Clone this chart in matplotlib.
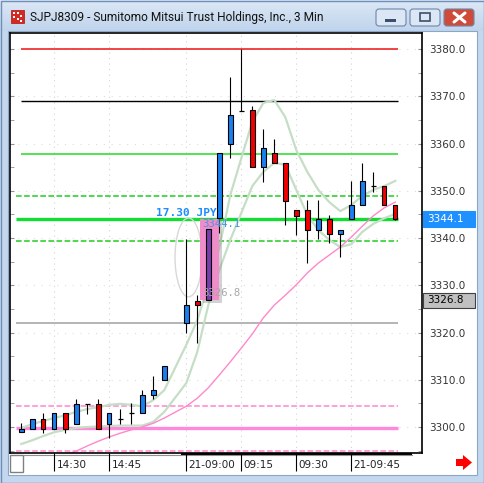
import matplotlib.pyplot as plt
import matplotlib.patches as mpatches
import matplotlib.transforms as mtransforms
from matplotlib.colors import LinearSegmentedColormap
import numpy as np

W, H = 485, 483

# 3-minute bars: previous afternoon session, then the morning of the 21st
times = ['14:21', '14:24', '14:27', '14:30', '14:33', '14:36', '14:39', '14:42',
         '14:45', '14:48', '14:51', '14:54', '14:57', '15:00',
         '09:00', '09:03', '09:06', '09:09', '09:12', '09:15', '09:18', '09:21',
         '09:24', '09:27', '09:30', '09:33', '09:36', '09:39', '09:42', '09:45',
         '09:48', '09:51', '09:54', '09:57']
session = [0] * 14 + [1] * 20

opens = [3298.9, 3299.6, 3301.8, 3299.6, 3302.9, 3300.7, 3304.8, 3304.8, 3300.7, 3301.8,
         3302.9, 3302.9, 3306.7, 3309.9,
         3322.0, 3326.7, 3326.9, 3344.2, 3359.8, 3366.9, 3367.1, 3355.0, 3357.9, 3355.8,
         3345.9, 3345.9, 3341.8, 3344.0, 3340.8, 3344.0, 3346.9, 3351.0, 3351.0, 3346.9]
highs = [3300.8, 3301.8, 3302.9, 3302.9, 3302.9, 3306.0, 3304.8, 3306.0, 3302.9, 3303.8,
         3305.0, 3307.8, 3310.7, 3312.9,
         3339.9, 3327.9, 3341.9, 3357.9, 3374.1, 3380.1, 3368.0, 3363.1, 3361.0, 3355.8,
         3345.9, 3348.0, 3348.0, 3344.9, 3341.8, 3352.1, 3355.9, 3354.0, 3351.0, 3346.9]
lows = [3298.9, 3299.6, 3298.8, 3299.6, 3298.8, 3300.7, 3302.8, 3299.6, 3297.7, 3300.7,
        3300.7, 3302.9, 3305.9, 3309.9,
        3319.9, 3317.8, 3326.9, 3341.1, 3356.9, 3366.9, 3355.0, 3351.9, 3355.8, 3342.8,
        3340.7, 3334.8, 3339.9, 3338.9, 3335.9, 3344.0, 3346.9, 3349.8, 3346.9, 3343.9]
closes = [3299.6, 3301.8, 3299.6, 3302.9, 3299.6, 3304.8, 3304.8, 3299.6, 3302.9, 3301.8,
          3302.9, 3306.7, 3307.8, 3312.9,
          3325.8, 3325.8, 3341.9, 3357.9, 3366.0, 3366.9, 3355.0, 3359.0, 3355.8, 3347.9,
          3344.7, 3341.8, 3344.0, 3340.8, 3341.8, 3346.9, 3352.0, 3351.0, 3346.9, 3344.1]

# indicator lines (pale envelope and pink moving average)
band_upper = [3299.8, 3300.6, 3301.3, 3301.9, 3302.5, 3303.2, 3303.8, 3304.2, 3304.7, 3304.9,
              3304.7, 3304.4, 3305.7, 3307.8,
              3317.4, 3322.6, 3330.1, 3337.9, 3349.1, 3356.9, 3364.6, 3368.6, 3369.2, 3365.6,
              3358.6, 3354.0, 3350.2, 3347.6, 3345.7, 3347.0, 3348.9, 3350.2, 3351.0, 3352.1]
band_lower = [3296.4, 3297.2, 3298.1, 3298.9, 3299.4, 3299.8, 3300.0, 3300.1, 3300.2, 3300.3,
              3300.3, 3300.3, 3301.1, 3303.2,
              3309.3, 3315.9, 3325.8, 3333.2, 3339.6, 3345.3, 3351.0, 3354.0, 3355.9, 3355.5,
              3350.2, 3344.9, 3341.7, 3339.6, 3338.1, 3338.7, 3341.3, 3343.0, 3344.2, 3345.1]
pink_ma = [3290.9, 3291.7, 3292.6, 3293.4, 3294.1, 3294.9, 3296.0, 3297.0, 3297.9, 3298.7,
           3299.4, 3300.0, 3300.8, 3301.9,
           3304.4, 3306.1, 3308.3, 3311.0, 3313.8, 3316.7, 3319.7, 3323.1, 3325.8, 3327.9,
           3330.1, 3332.6, 3334.7, 3336.4, 3338.1, 3340.2, 3342.5, 3344.7, 3346.4, 3347.6]

# horizontal levels
level_prices = [3380.0, 3369.0, 3357.7, 3348.8, 3339.3, 3322.0, 3304.4, 3299.7, 3294.9]
level_colors = ['#ee1111', '#000000', '#22dd22', '#22cc22', '#22cc22', '#a0a0a0',
                '#ff88cc', '#ff88dd', '#ff88cc']
level_styles = ['-', '-', '-', '--', '--', '-', '--', '-', '--']
level_widths = [1.1, 1.0, 1.1, 1.1, 1.1, 1.1, 1.1, 2.4, 1.1]
level_start = [0, 0, 0, -0.5, -0.5, -0.5, -0.5, -0.5, -0.5]
last_price = 3344.1

# measuring tool
measure_hi, measure_lo = 3344.1, 3326.8

yticks = [3300, 3310, 3320, 3330, 3340, 3350, 3360, 3370, 3380]
xtick_labels = {'14:30': '14:30', '14:45': '14:45', '09:00': '21-09:00',
                '09:15': '09:15', '09:30': '09:30', '09:45': '21-09:45'}

fig = plt.figure(figsize=(W / 100, H / 100), dpi=100)
fig.patch.set_facecolor('#c3d7ee')

# window chrome, drawn in pixel coordinates
bg = fig.add_axes([0, 0, 1, 1], zorder=0)
bg.set_xlim(0, W)
bg.set_ylim(H, 0)
bg.axis('off')
frame_cmap = LinearSegmentedColormap.from_list('frame', ['#dce8f6', '#c0d4ec'])
bg.imshow(np.linspace(0, 1, 40)[:, None], extent=(0, W, 31, 0), cmap=frame_cmap,
          aspect='auto', zorder=0)
bg.add_patch(mpatches.Rectangle((0.5, 0.5), W - 1, H - 1, fill=False, ec='#6f8fb8', lw=1))
bg.add_patch(mpatches.Rectangle((8, 31), 469, 444, fc='white', ec='#8aa6c8', lw=0.8))
# icon
bg.add_patch(mpatches.Rectangle((11, 10), 13, 13, fc='#d42a22', ec='#b01010', lw=0.5))
for ix, iy in [(13, 12), (17, 12), (20, 15), (13, 16), (17, 18), (20, 20)]:
    bg.add_patch(mpatches.Rectangle((ix, iy), 2, 2, fc='white', ec='none'))
bg.text(30, 17.5, 'SJPJ8309 - Sumitomo Mitsui Trust Holdings, Inc., 3 Min',
        fontsize=8.6, family='Roboto', color='#111111', va='center', ha='left')
# caption buttons
for bx, fc in [(376, '#dbe7f5'), (410, '#dbe7f5'), (444, '#cf4a38')]:
    bg.add_patch(mpatches.FancyBboxPatch((bx, 9), 30, 17, boxstyle='round,pad=0,rounding_size=3',
                                         fc=fc, ec='#6e86a8', lw=0.8))
bg.add_patch(mpatches.Rectangle((385, 19), 11, 2.5, fc='#3c4f6c', ec='none'))
bg.add_patch(mpatches.Rectangle((420, 13), 10, 8, fill=False, ec='#3c4f6c', lw=1.2))
bg.plot([454, 465], [13, 22], color='white', lw=2.2, solid_capstyle='round')
bg.plot([454, 465], [22, 13], color='white', lw=2.2, solid_capstyle='round')
# bottom area bits
bg.add_patch(mpatches.Rectangle((10, 455), 13, 17, fc='white', ec='#808080', lw=1))
bg.plot([23, 412], [455, 455], color='#909090', lw=0.8)
bg.add_patch(mpatches.Rectangle((181, 452.5), 231, 2.5, fc='black', ec='none'))
bg.add_patch(mpatches.Polygon([(456, 459), (463, 459), (463, 455), (472, 462.5),
                               (463, 470), (463, 466), (456, 466)], fc='#ff0000', ec='none'))

# chart axes
ax = fig.add_axes([10 / W, (H - 453) / H, 412 / W, 420 / H], zorder=1)
ax.set_facecolor('white')
x = np.array([i + s for i, s in enumerate(session)], dtype=float)
o, h, l, c = map(np.array, (opens, highs, lows, closes))

ax.set_xlim((10 - 21.3) / 11, (422 - 21.3) / 11)
ax.set_ylim(3294.5, 3383.4)

# grid
xt = [x[times.index(k)] for k in xtick_labels]
for v in xt:
    ax.axvline(v, color='#d4d4d4', lw=0.8, ls=(0, (1, 4)), zorder=0)
for v in yticks:
    ax.axhline(v, color='#dddddd', lw=0.8, ls=(0, (1, 6)), zorder=0)

# levels
for p, col, st, lw, x0 in zip(level_prices, level_colors, level_styles, level_widths, level_start):
    ax.hlines(p, x0, 34.2, color=col, ls=st, lw=lw, zorder=1)
ax.hlines(last_price, -0.5, 34.2, color='#11dd33', lw=2.4, zorder=1)

# indicators
ax.plot(x, band_upper, color='#c5dec5', lw=1.6, zorder=2)
ax.plot(x, band_lower, color='#c5dec5', lw=1.6, zorder=2)
ax.plot(x, pink_ma, color='#ff88cc', lw=1.0, zorder=2)

# drawing objects: ellipse and measuring box
ax.add_patch(mpatches.Ellipse((15.2, 3335.9), 2.45, 16.7, fill=False, ec='#d8d8d8', lw=1, zorder=2))
x_sel = x[times.index('09:06')]
ax.add_patch(mpatches.Rectangle((x_sel - 0.75 + 0.27, measure_lo - 0.55), 1.75, measure_hi - measure_lo,
                                fc='#909090', alpha=0.4, ec='none', zorder=3))
ax.add_patch(mpatches.Rectangle((x_sel - 0.75, measure_lo), 1.75, measure_hi - measure_lo,
                                fc='#f08cc8', ec='none', zorder=3.2))

# candles
up = c > o
doji = c == o
body_col = np.where(up, '#1a80f0', '#f00000').astype(object)
body_col[times.index('09:06')] = '#7b3cb0'
ax.vlines(x, l, h, color='black', lw=0.8, zorder=4)
nd = ~doji
ax.bar(x[nd], np.abs(c - o)[nd], 0.4, bottom=np.minimum(o, c)[nd], color=list(body_col[nd]),
       edgecolor='black', lw=0.8, zorder=5)
ax.hlines(c[doji], x[doji] - 0.25, x[doji] + 0.25, color='black', lw=0.9, zorder=5)

# measuring tool texts
ax.text(x_sel + 0.8, measure_hi + 1.2, f'{measure_hi - measure_lo:.2f} JPY', family='DejaVu Sans Mono',
        fontsize=8, fontweight='bold', color='#1e8cff', ha='right', va='center', zorder=6)
ax.text(x_sel - 0.55, measure_hi - 1.15, f'{measure_hi:.1f}', family='DejaVu Sans Mono',
        fontsize=7.7, color='#4a94e6', ha='left', va='center', zorder=6)
ax.text(x_sel - 0.55, measure_lo + 1.6, f'{measure_lo:.1f}', family='DejaVu Sans Mono',
        fontsize=7.7, color='#a8a8a8', ha='left', va='center', zorder=6)

# axes styling
for s in ax.spines.values():
    s.set_color('black')
    s.set_linewidth(1.2)
ax.yaxis.tick_right()
ax.set_yticks(yticks)
ax.set_yticklabels([f'{v:.1f}' for v in yticks])
ax.set_yticks(np.arange(3295, 3384, 5), minor=True)
ax.tick_params(axis='y', which='both', left=True, right=True, direction='in', length=3,
               color='#909090', labelsize=7.5, labelcolor='#333333', pad=5)
ax.set_xticks(xt)
ax.set_xticklabels([])
ax.tick_params(axis='x', which='major', direction='out', length=13, width=0.8, color='black')
blend = mtransforms.blended_transform_factory(ax.transData, ax.transAxes)
for v, lbl in zip(xt, xtick_labels.values()):
    ax.annotate(lbl, xy=(v, 0), xycoords=blend, xytext=(1.5, -9), textcoords='offset points',
                fontsize=7.5, color='#222222', ha='left', va='center', annotation_clip=False)

# price flags on the axis
yblend = mtransforms.blended_transform_factory(ax.transAxes, ax.transData)
for p, fc, ec, tc in [(last_price, '#1e90ff', '#1e90ff', 'white'),
                      (measure_lo, '#c0c0c0', '#404040', 'black')]:
    ax.add_patch(mpatches.Rectangle((1 + 1.5 / 412, p - 1.66), 52 / 412, 3.32, transform=yblend,
                                    fc=fc, ec=ec, lw=0.8, clip_on=False, zorder=6))
    ax.text(1 + 5 / 412, p, f'{p:.1f}', transform=yblend, fontsize=7.5, color=tc,
            ha='left', va='center', zorder=7, clip_on=False)

fig.savefig('out.png', dpi=100)
